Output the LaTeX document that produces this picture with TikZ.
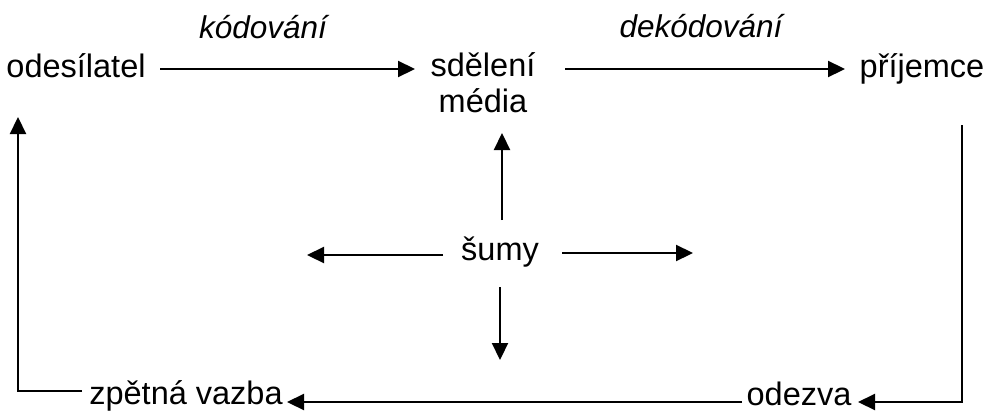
\documentclass[tikz,border=0pt]{standalone}
\usepackage{fontspec}
\setmainfont{Liberation Sans}
\usetikzlibrary{arrows.meta}
\begin{document}
\begin{tikzpicture}[x=1pt,y=-1pt,
  lbl/.style={inner sep=0pt, anchor=base, font=\fontsize{32.5}{39}\selectfont},
  ital/.style={inner sep=0pt, anchor=base, font=\fontsize{31.5}{38}\selectfont\itshape},
  arr/.style={line width=2.2pt, -{Triangle[length=17pt,width=16pt]}}]
\useasboundingbox (0,0) rectangle (990,410);
% labels
\node[lbl] (odes) at (76,77) {odesílatel};
\node[ital] (kod) at (263,38) {kódování};
\node[lbl] (sdel) at (483,76) {sdělení};
\node[lbl] (media) at (483,112) {média};
\node[ital] (dekod) at (701,37) {dekódování};
\node[lbl] (prij) at (922,77) {příjemce};
\node[lbl] (sumy) at (500,260) {šumy};
\node[lbl] (odezva) at (799,405) {odezva};
\node[lbl] (zpet) at (186,404) {zpětná vazba};
% connector ends
\coordinate (a1s) at (160,69);  \coordinate (a1e) at (415,69);
\coordinate (a2s) at (565,69);  \coordinate (a2e) at (845,69);
\coordinate (r1) at (962,125);  \coordinate (r2) at (962,402); \coordinate (r3) at (858,402);
\coordinate (b1) at (742,402);  \coordinate (b2) at (287,402);
\coordinate (l1) at (82,391);   \coordinate (l2) at (18,391);  \coordinate (l3) at (18,117);
\coordinate (nu1) at (502,220); \coordinate (nu2) at (502,133);
\coordinate (nl1) at (443,255); \coordinate (nl2) at (307,255);
\coordinate (nr1) at (562,253); \coordinate (nr2) at (693,253);
\coordinate (nd1) at (500,287); \coordinate (nd2) at (500,360);
% connectors
\draw[arr] (a1s) -- (a1e);
\draw[arr] (a2s) -- (a2e);
\draw[arr] (r1) -- (r2) -- (r3);
\draw[arr] (b1) -- (b2);
\draw[arr] (l1) -- (l2) -- (l3);
\draw[arr] (nu1) -- (nu2);
\draw[arr] (nl1) -- (nl2);
\draw[arr] (nr1) -- (nr2);
\draw[arr] (nd1) -- (nd2);
\end{tikzpicture}
\end{document}
